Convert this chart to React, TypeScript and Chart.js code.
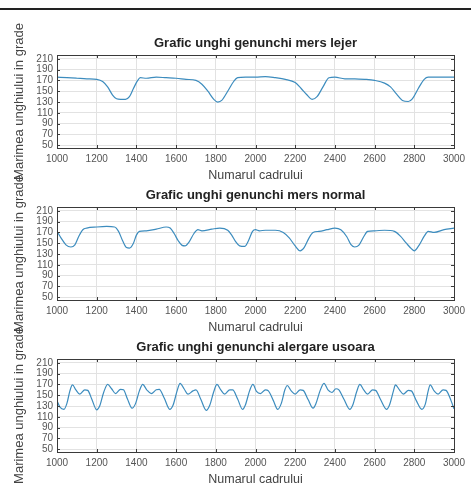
import React, { useEffect, useRef } from "react";
import { Chart, registerables } from "chart.js";

Chart.register(...registerables);

const xTicks = [1000, 1200, 1400, 1600, 1800, 2000, 2200, 2400, 2600, 2800, 3000];
const yTicks = [50, 70, 90, 110, 130, 150, 170, 190, 210];

const titles = [
  "Grafic unghi genunchi mers lejer",
  "Grafic unghi genunchi mers normal",
  "Grafic unghi genunchi alergare usoara",
];
const xTitle = "Numarul cadrului";
const yTitle = "Marimea unghiului in grade";

// mers lejer
const lejerFrames = [1000, 1050, 1100, 1150, 1200, 1230, 1255, 1280, 1300, 1320, 1345, 1365, 1385, 1405, 1420, 1450, 1500, 1550, 1600, 1650, 1700, 1730, 1760, 1790, 1810, 1830, 1860, 1890, 1910, 1950, 2000, 2050, 2100, 2150, 2200, 2230, 2260, 2285, 2310, 2340, 2370, 2400, 2450, 2500, 2550, 2600, 2650, 2680, 2710, 2740, 2770, 2790, 2820, 2850, 2870, 2900, 2950, 3000];
const lejerAngles = [176, 175, 174, 173, 172, 168, 158, 143, 136, 135, 135, 140, 155, 169, 175, 174, 176, 175, 174, 172, 170, 163, 150, 135, 130, 133, 150, 168, 175, 176, 176, 177, 175, 172, 166, 155, 143, 135, 140, 158, 175, 176, 173, 173, 172, 170, 165, 158, 145, 133, 131, 136, 155, 172, 176, 176, 176, 176];

// mers normal
const normalFrames = [1000, 1020, 1045, 1070, 1090, 1110, 1130, 1150, 1200, 1250, 1290, 1310, 1330, 1350, 1365, 1385, 1400, 1415, 1450, 1500, 1550, 1570, 1590, 1610, 1630, 1645, 1665, 1690, 1710, 1730, 1780, 1820, 1860, 1880, 1900, 1920, 1945, 1965, 1985, 2000, 2020, 2050, 2100, 2140, 2170, 2200, 2225, 2245, 2270, 2290, 2320, 2360, 2400, 2430, 2460, 2480, 2500, 2520, 2545, 2565, 2600, 2650, 2700, 2730, 2760, 2785, 2800, 2820, 2850, 2870, 2900, 2950, 3000];
const normalAngles = [172, 160, 147, 143, 147, 163, 175, 178, 180, 181, 180, 172, 155, 142, 141, 150, 165, 172, 173, 176, 180, 178, 168, 155, 146, 145, 152, 168, 175, 173, 176, 178, 174, 165, 153, 145, 144, 155, 172, 175, 173, 174, 174, 170, 160, 145, 136, 142, 160, 170, 172, 175, 178, 175, 162, 148, 143, 146, 162, 172, 173, 174, 172, 163, 150, 140, 136, 144, 163, 172, 170, 175, 178];

// alergare usoara
const alergareFrames = [1000, 1015, 1035, 1050, 1065, 1078, 1095, 1115, 1140, 1155, 1175, 1200, 1215, 1235, 1255, 1275, 1295, 1320, 1335, 1355, 1378, 1395, 1415, 1432, 1452, 1475, 1500, 1515, 1540, 1568, 1585, 1605, 1620, 1640, 1660, 1685, 1700, 1725, 1752, 1770, 1790, 1806, 1825, 1845, 1870, 1885, 1910, 1935, 1950, 1970, 1987, 2005, 2025, 2050, 2065, 2090, 2112, 2130, 2148, 2160, 2180, 2200, 2225, 2240, 2265, 2290, 2305, 2325, 2345, 2365, 2385, 2405, 2420, 2445, 2475, 2490, 2510, 2526, 2545, 2565, 2590, 2605, 2630, 2660, 2675, 2695, 2705, 2725, 2745, 2770, 2785, 2810, 2838, 2855, 2870, 2880, 2900, 2920, 2945, 2960, 2985, 3000];
const alergareAngles = [140, 128, 124, 135, 158, 169, 160, 152, 160, 159, 143, 123, 130, 155, 170, 162, 153, 161, 160, 143, 126, 134, 158, 170, 160, 153, 160, 161, 145, 124, 132, 158, 172, 162, 152, 158, 160, 142, 122, 132, 157, 170, 160, 152, 160, 160, 143, 124, 133, 158, 170, 157, 153, 160, 158, 140, 124, 135, 160, 168, 158, 152, 160, 159, 142, 126, 135, 158, 172, 160, 155, 162, 160, 143, 124, 132, 157, 170, 160, 152, 160, 159, 142, 124, 132, 158, 169, 160, 152, 159, 158, 140, 124, 133, 158, 169, 158, 152, 160, 159, 140, 125];

const seriesFrames = [lejerFrames, normalFrames, alergareFrames];
const seriesAngles = [lejerAngles, normalAngles, alergareAngles];

const W = 471;
const H = 490;
const FONT = "'Liberation Sans', Arial, Helvetica, sans-serif";

const framePlugin = {
  id: "matlabFrame",
  afterDraw(chart: any, _args: any, opts: any) {
    const { ctx, chartArea } = chart;
    const { left, right, top, bottom } = chartArea;
    const xs = chart.scales.x;
    const ys = chart.scales.y;
    ctx.save();
    ctx.strokeStyle = "#3a3a3a";
    ctx.lineWidth = 1;
    ctx.strokeRect(Math.round(left) + 0.5, Math.round(top) + 0.5, Math.round(right - left), Math.round(bottom - top));
    const tl = 3;
    ctx.beginPath();
    xTicks.forEach((v) => {
      const px = Math.round(xs.getPixelForValue(v)) + 0.5;
      ctx.moveTo(px, bottom);
      ctx.lineTo(px, bottom - tl);
      ctx.moveTo(px, top);
      ctx.lineTo(px, top + tl);
    });
    yTicks.forEach((v) => {
      const py = Math.round(ys.getPixelForValue(v)) + 0.5;
      ctx.moveTo(left, py);
      ctx.lineTo(left + tl, py);
      ctx.moveTo(right, py);
      ctx.lineTo(right - tl, py);
    });
    ctx.stroke();

    ctx.fillStyle = "#222";
    ctx.textAlign = "center";
    ctx.textBaseline = "middle";
    ctx.font = `bold 13px ${FONT}`;
    ctx.fillText(opts.title, (left + right) / 2, top - 12);

    ctx.fillStyle = "#444";
    ctx.font = `12.5px ${FONT}`;
    ctx.fillText(xTitle, (left + right) / 2, bottom + 28);

    ctx.translate(19, (top + bottom) / 2);
    ctx.rotate(-Math.PI / 2);
    ctx.font = `13px ${FONT}`;
    ctx.fillText(yTitle, 0, 0);
    ctx.restore();
  },
};

function SubPlot({ index }: { index: number }) {
  const ref = useRef<HTMLCanvasElement | null>(null);
  useEffect(() => {
    if (!ref.current) return;
    const top = 55 + 152 * index;
    const bottom = top + 93;
    const data = seriesFrames[index].map((f, i) => ({ x: f, y: seriesAngles[index][i] }));
    const chart = new Chart(ref.current, {
      type: "line",
      data: {
        datasets: [
          {
            data,
            borderColor: "rgb(60,140,190)",
            borderWidth: 1.2,
            pointRadius: 0,
            cubicInterpolationMode: "monotone",
            fill: false,
          },
        ],
      },
      plugins: [framePlugin],
      options: {
        responsive: false,
        animation: false,
        devicePixelRatio: 1,
        layout: { padding: { top, bottom: H - bottom - 30, left: 0, right: 17 } },
        plugins: {
          legend: { display: false },
          tooltip: { enabled: false },
          title: { display: false },
          matlabFrame: { title: titles[index] },
        } as any,
        scales: {
          x: {
            type: "linear",
            min: 1000,
            max: 3000,
            afterBuildTicks: (s: any) => {
              s.ticks = xTicks.map((v) => ({ value: v }));
            },
            afterFit: (s: any) => {
              s.height = 30;
            },
            grid: { color: "#e2e2e2", drawTicks: false },
            border: { display: false },
            ticks: {
              autoSkip: false,
              maxRotation: 0,
              padding: 5,
              color: "#555",
              font: { family: FONT, size: 10 },
              callback: (v: any) => String(v),
            },
          },
          y: {
            type: "linear",
            min: 45,
            max: 217,
            afterBuildTicks: (s: any) => {
              s.ticks = yTicks.map((v) => ({ value: v }));
            },
            afterFit: (s: any) => {
              s.width = 57;
            },
            grid: { color: "#e2e2e2", drawTicks: false },
            border: { display: false },
            ticks: {
              autoSkip: false,
              padding: 4,
              color: "#555",
              font: { family: FONT, size: 10 },
              callback: (v: any) => String(v),
            },
          },
        },
      },
    });
    return () => chart.destroy();
  }, [index]);
  return (
    <canvas
      ref={ref}
      width={W}
      height={H}
      style={{ position: "absolute", left: 0, top: 0, width: W, height: H }}
    />
  );
}

export default function App() {
  return (
    <div style={{ position: "absolute", left: 0, top: 0, width: W, height: H, background: "#fff", overflow: "hidden" }}>
      <div style={{ position: "absolute", left: 0, top: 8, width: W, height: 2, background: "#222" }} />
      <SubPlot index={0} />
      <SubPlot index={1} />
      <SubPlot index={2} />
    </div>
  );
}
